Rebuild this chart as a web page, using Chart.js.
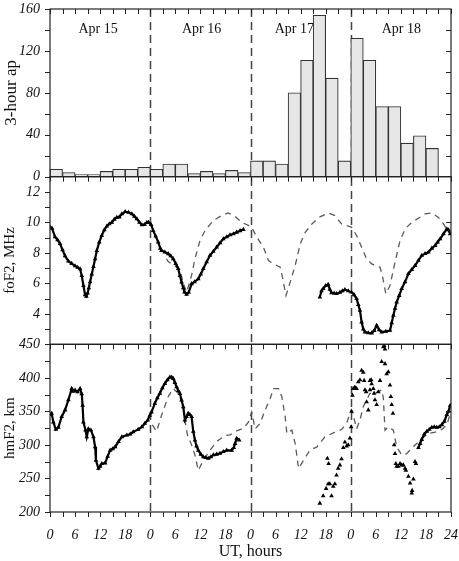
<!DOCTYPE html>
<html>
<head>
<meta charset="utf-8">
<style>
  html, body { margin: 0; padding: 0; background: #fff; }
  #c { display: block; }
</style>
<script src="https://cdn.jsdelivr.net/npm/chart.js@4"></script>
</head>
<body>
<canvas id="c" width="459" height="561"></canvas>
<script>
// ---------- DATA ----------
const dayLabels = ['Apr 15', 'Apr 16', 'Apr 17', 'Apr 18'];
const hourTickLabels = ['0','6','12','18','0','6','12','18','0','6','12','18','0','6','12','18','24'];

const apHours = [1.5,4.5,7.5,10.5,13.5,16.5,19.5,22.5, 25.5,28.5,31.5,34.5,37.5,40.5,43.5,46.5,
                 49.5,52.5,55.5,58.5,61.5,64.5,67.5,70.5, 73.5,76.5,79.5,82.5,85.5,88.5,91.5,94.5];
const apValues = [7,4,2,2,5,7,7,9, 7,12,12,3,5,3,6,4, 15,15,12,80,111,154,94,15, 132,111,67,67,32,39,27,null];

const foF2Observed = [
  [0,9.7],[0.5,9.6],[1.2,9.05],[1.8,8.85],[2.4,8.6],[3,8.2],[3.6,7.8],[4.4,7.45],[5.2,7.3],[6,7.15],[6.6,7.05],[7.2,6.95],
  [7.6,6.5],[8,5.85],[8.4,5.25],[8.7,5.15],[9,5.35],[9.3,5.7],[9.6,6.1],[10,6.6],[10.4,7.1],[10.8,7.6],[11.2,8.15],[11.8,8.7],
  [12.4,9.15],[13,9.5],[13.6,9.75],[14.2,9.9],[14.8,10.0],[15.4,10.2],[16,10.33],[16.6,10.35],[17.2,10.55],[18,10.7],[18.8,10.65],
  [19.6,10.55],[20.2,10.4],[20.8,10.23],[21.4,10.0],[22,9.84],[22.6,9.85],[23.2,10.0],[23.6,10.0],[24.2,9.85],[24.7,9.46],
  [25.3,9.1],[25.9,8.7],[26.4,8.3],[26.7,8.15],[27.5,8.05],[28.3,7.94],[28.9,7.8],[29.5,7.61],[30.1,7.3],[30.7,6.96],[31.1,6.5],
  [31.5,6.08],[31.9,5.7],[32.2,5.42],[32.7,5.27],[33.2,5.4],[33.9,5.97],[34.6,6.1],[35.5,6.3],[36.1,6.6],[36.7,6.96],[37.5,7.4],
  [38.3,7.83],[39.1,8.1],[39.9,8.37],[40.7,8.65],[41.5,8.92],[42.3,9.05],[43.1,9.18],[43.9,9.25],[44.7,9.35],[45.5,9.45],[46.3,9.53],
  [55,null],
  [64.6,5.1],[65,5.5],[65.4,5.65],[66,5.85],[66.6,5.93],[67,5.6],[67.4,5.38],[68,5.35],[68.6,5.32],[69.4,5.4],[70,5.5],[70.6,5.58],
  [71.4,5.5],[72.2,5.42],[72.8,5.25],[73.4,4.99],[73.8,4.6],[74.2,4.23],[74.6,3.46],[75,3.0],[75.4,2.8],[76.2,2.75],[77,2.74],
  [77.6,2.9],[78.2,3.24],[78.8,2.95],[79.4,2.8],[80.4,2.85],[81.4,2.91],[81.8,3.4],[82.2,3.9],[82.6,4.35],[83,4.77],[83.6,5.2],
  [84.2,5.65],[85,6.1],[85.8,6.63],[86.6,6.9],[87.4,7.17],[88.2,7.5],[89,7.83],[89.8,7.95],[90.6,8.04],[91.4,8.3],[92.2,8.48],
  [92.8,8.7],[93.4,8.92],[94.2,9.25],[95,9.57],[95.4,9.5],[95.8,9.25]
];

const foF2Median = [
  [27.9,7.6],[28.3,7.43],[30.3,7.06],[31.1,6.9],[31.9,6.0],[32.7,5.42],[33.9,6.52],[34.7,7.61],[35.9,8.8],[37.1,9.46],[39.1,10.12],
  [41.1,10.45],[42.7,10.62],[44.3,10.4],[45.9,10.0],[47.5,9.8],[48.3,9.68],[49.5,9.03],[51.1,8.37],[52.3,7.5],[53.5,7.28],[55.1,7.06],
  [55.5,6.6],[56.5,5.2],[57.5,6.08],[58.7,7.17],[59.9,8.6],[61.1,9.35],[62.7,9.9],[64.4,10.33],[66.6,10.62],[68.2,10.45],[69.8,9.9],
  [71,9.8],[72.2,9.68],[73.4,9.14],[74.6,8.37],[75.8,7.61],[77,7.28],[79,7.06],[79.5,6.6],[80.4,5.32],[81.4,5.86],[82.6,7.39],
  [83.8,8.81],[85,9.57],[86.6,10.0],[88.2,10.27],[89.8,10.56],[91.4,10.62],[93,10.33],[94.2,9.9],[95.4,9.35]
];

const hmF2Observed = [
  [0,345],[0.4,347],[0.8,334],[1.4,323],[2,326],[2.8,342],[3.6,352],[4.4,367],[5.2,384],[5.6,380],[6,381.5],[6.6,379],[7.2,384],
  [7.6,376],[7.8,359],[8,334],[8.5,322],[8.8,312],[9.2,324],[9.8,322],[10.4,312],[10.8,297],[11,277],[11.6,265],[12,268],[12.4,272],
  [13.2,273],[13.8,283],[14.4,292],[15,294],[15.6,297],[16.4,305],[17.2,312],[18.4,314.6],[19.2,316],[19.9,319.5],[21.1,323],[22,327],
  [22.7,332],[23.4,337],[23.9,344],[24.3,349],[25.1,362],[25.7,370],[26.3,377],[26.9,385],[27.5,391.5],[28.1,397],[28.7,401],[29.1,401],
  [29.5,399],[29.9,393],[30.3,386.5],[30.7,381],[31.1,376.6],[31.5,366.7],[31.9,356.7],[32.3,337],[32.7,342],[33.1,347],[33.5,345],
  [33.9,342],[34.3,320],[34.7,307],[35.1,298],[35.5,292],[36.1,286],[36.7,282],[37.3,281],[37.9,280],[38.5,282],[39.1,285],[39.9,286],
  [40.7,287.4],[41.5,290],[42.3,292],[43.5,292],[44,296],[44.3,302],[44.7,309.7],[45.3,307],
  [60,null],
  [88.2,296],[88.6,302],[89,308],[89.6,316],[90.2,320],[90.8,323],[91.4,326],[92,327],[92.6,326],[93.2,327],[93.8,330],[94.4,335],
  [95,345],[95.4,350],[95.8,359]
];

const hmF2Scattered = [
  [64.6,213],[65.4,224],[66.1,235],[66.6,242],[66.4,280],[66.7,272],[67,242],[67.4,224],[67.8,238],[68.2,242],[68.6,255],[69,265],
  [69.4,270],[69.8,279],[70.2,296],[70.6,304],[71,298],[71.4,300],[71.8,310],[72.1,327],[72.2,350],[72.4,374],[72.6,384],[73,386],
  [73.4,384],[73.8,394],[74.2,397],[74.6,411],[75,408],[75.2,396],[75.4,382],[75.7,379],[75.8,364],[76.2,352],[76.6,382],[76.6,396],
  [76.9,397],[77,391],[77.4,384],[77.6,377],[77.8,367],[78.2,360],[78.6,379],[79,396],[79.4,424],[79.8,446],[80,448],[80.2,443],
  [80.2,421],[80.6,406],[81,409],[81.4,389],[81.6,372],[81.8,360],[82.1,347],[82.4,300],[82.6,287],[82.8,272],[83,268],[83.4,268],
  [83.8,272],[84.2,270],[84.6,270],[85,265],[85.2,262],[85.8,253],[86.2,243],[86.6,228],[86.7,232],[87,249],[87.4,275],[87.6,272]
];

const hmF2Median = [
  [24.5,330],[25.5,320],[26.7,344],[28.3,372],[29.5,384],[30.5,378],[31.8,362],[32.3,337],[32.9,315],[33.9,300],[34.7,285],[35.5,262],
  [36.7,277],[38.3,292],[39.9,305],[41.9,314],[43.1,315],[44.7,321],[46.3,325],[47.5,334],[48.3,349],[49.1,324],[50.3,332],[51.5,352],
  [52.7,369],[53.5,384],[54.7,384],[55.5,372],[56.3,342],[56.7,317],[57.9,322],[58.7,302],[59.5,265],[60.7,277],[62.2,292],[63.9,297],
  [65.8,312],[68.2,319],[69.8,323],[71,332],[72.1,352],[72.6,344],[73.4,324],[74.2,337],[75,357],[76.6,377],[77.8,377],[79.4,382],
  [79.8,370],[80.2,322],[81,327],[82.2,322],[83,297],[84.2,285],[85.4,287],[86.6,295],[87.8,302],[89,310],[90.6,317],[92.2,319],
  [93.8,323],[95,330],[96,350]
];

// ---------- CHART ----------
const toXY = arr => arr.map(p => ({x: p[0], y: p[1]}));
const SERIF = '"Liberation Serif", "Times New Roman", serif';
const INK = '#222';

const decor = {
  id: 'decor',
  beforeDatasetsDraw(chart) {
    const {ctx, chartArea, scales} = chart;
    const x = scales.x;
    ctx.save();
    ctx.strokeStyle = '#444';
    ctx.lineWidth = 1.5;
    ctx.setLineDash([8, 5]);
    [24, 48, 72].forEach(h => {
      const px = Math.round(x.getPixelForValue(h)) + 0.5;
      ctx.beginPath();
      ctx.moveTo(px, chartArea.top);
      ctx.lineTo(px, chartArea.bottom);
      ctx.stroke();
    });
    ctx.restore();
  },
  afterDatasetsDraw(chart) {
    const {ctx, scales} = chart;
    const x = scales.x;
    const panels = [scales.yAp, scales.yFo, scales.yHm];
    ctx.save();
    ctx.strokeStyle = INK;
    ctx.lineWidth = 1.2;
    ctx.setLineDash([]);
    panels.forEach(s => {
      ctx.strokeRect(x.left, s.top, x.right - x.left, s.bottom - s.top);
    });
    ctx.lineWidth = 1;
    for (let h = 0; h <= 96; h += 3) {
      const px = Math.round(x.getPixelForValue(h)) + 0.5;
      panels.forEach(s => {
        ctx.beginPath(); ctx.moveTo(px, s.top); ctx.lineTo(px, s.top + 5); ctx.stroke();
      });
      ctx.beginPath(); ctx.moveTo(px, scales.yHm.bottom); ctx.lineTo(px, scales.yHm.bottom + 5); ctx.stroke();
    }
    panels.forEach(s => {
      s.ticks.forEach(t => {
        const py = Math.round(s.getPixelForValue(t.value)) + 0.5;
        ctx.beginPath(); ctx.moveTo(x.left - 5, py); ctx.lineTo(x.left, py); ctx.stroke();
      });
    });
    const rightTicks = [[scales.yAp, 20], [scales.yFo, 2], [scales.yHm, 50]];
    rightTicks.forEach(([s, step]) => {
      for (let v = Math.ceil(s.min / step) * step; v <= s.max; v += step) {
        if (v === s.min || v === s.max) continue;
        const py = Math.round(s.getPixelForValue(v)) + 0.5;
        ctx.beginPath(); ctx.moveTo(x.right, py); ctx.lineTo(x.right - 5, py); ctx.stroke();
      }
    });
    ctx.fillStyle = '#111';
    ctx.font = '14px ' + SERIF;
    ctx.textAlign = 'center';
    ctx.textBaseline = 'middle';
    const labelHours = [11.5, 36.3, 58.5, 84.1];
    dayLabels.forEach((t, i) => {
      ctx.fillText(t, x.getPixelForValue(labelHours[i]), scales.yAp.getPixelForValue(141));
    });
    ctx.restore();
  }
};

const yCommon = (title, size) => ({
  type: 'linear',
  position: 'left',
  stack: 'panels',
  stackWeight: 1,
  border: { display: false },
  grid: { drawOnChartArea: false, drawTicks: true, tickLength: 10, tickColor: 'rgba(0,0,0,0)', color: 'rgba(0,0,0,0)' },
  title: { display: true, text: title, color: '#111', font: { family: SERIF, size: size }, padding: { top: 1, bottom: 0 } },
  afterFit(s) { s.width = 50; }
});

const tickFont = { family: SERIF, size: 14, style: 'italic' };

new Chart(document.getElementById('c'), {
  type: 'line',
  data: {
    datasets: [
      { type: 'line', label: 'foF2 obs', yAxisID: 'yFo', data: toXY(foF2Observed), order: 0,
        borderColor: '#000', borderWidth: 2.2, pointStyle: 'triangle', pointRadius: 2.7,
        pointBackgroundColor: '#000', pointBorderColor: '#000', pointBorderWidth: 0, spanGaps: false, tension: 0 },
      { type: 'line', label: 'hmF2 obs', yAxisID: 'yHm', data: toXY(hmF2Observed), order: 0,
        borderColor: '#000', borderWidth: 2.2, pointStyle: 'triangle', pointRadius: 2.7,
        pointBackgroundColor: '#000', pointBorderColor: '#000', pointBorderWidth: 0, spanGaps: false, tension: 0 },
      { type: 'line', label: 'hmF2 scattered', yAxisID: 'yHm', data: toXY(hmF2Scattered), order: 0, showLine: false,
        pointStyle: 'triangle', pointRadius: 2.7, pointBackgroundColor: '#000', pointBorderColor: '#000', pointBorderWidth: 0 },
      { type: 'line', label: 'foF2 median', yAxisID: 'yFo', data: toXY(foF2Median), order: 1,
        borderColor: '#5a5a5a', borderWidth: 1.3, borderDash: [6, 5], pointRadius: 0, tension: 0 },
      { type: 'line', label: 'hmF2 median', yAxisID: 'yHm', data: toXY(hmF2Median), order: 1,
        borderColor: '#5a5a5a', borderWidth: 1.3, borderDash: [6, 5], pointRadius: 0, tension: 0 },
      { type: 'bar', label: 'ap', yAxisID: 'yAp', order: 2,
        data: apHours.map((h, i) => ({x: h, y: apValues[i]})),
        backgroundColor: '#e6e6e6', borderColor: '#333', borderWidth: 1.1,
        barPercentage: 1, categoryPercentage: 1 }
    ]
  },
  options: {
    responsive: false,
    animation: false,
    events: [],
    layout: { autoPadding: false, padding: { top: 9, right: 8, left: 0, bottom: 0 } },
    plugins: { legend: { display: false }, tooltip: { enabled: false } },
    scales: {
      x: {
        type: 'linear', position: 'bottom', min: 0, max: 96, offset: false,
        grid: { display: true, offset: false, drawOnChartArea: false, drawTicks: true, tickLength: 15, tickColor: 'rgba(0,0,0,0)', color: 'rgba(0,0,0,0)' },
        border: { display: false },
        ticks: {
          stepSize: 3, autoSkip: false, maxRotation: 0, padding: 0, color: '#111', font: tickFont,
          callback: v => (v % 6 === 0 ? hourTickLabels[v / 6] : '')
        },
        title: { display: true, text: 'UT, hours', color: '#111', font: { family: SERIF, size: 16 }, padding: { top: 0, bottom: 0 } },
        afterFit(s) { s.height = 49; }
      },
      yHm: Object.assign(yCommon('hmF2, km', 15), {
        min: 200, max: 450,
        ticks: { stepSize: 25, autoSkip: false, padding: 0, color: '#111', font: tickFont,
                 callback: v => (v % 50 === 0 ? String(v) : '') }
      }),
      yFo: Object.assign(yCommon('foF2, MHz', 15), {
        min: 2, max: 13,
        ticks: { stepSize: 1, autoSkip: false, padding: 0, color: '#111', font: tickFont,
                 callback: v => (v % 2 === 0 && v >= 4 ? String(v) : '') }
      }),
      yAp: Object.assign(yCommon('3-hour ap', 17), {
        min: 0, max: 160,
        ticks: { stepSize: 20, autoSkip: false, padding: 0, color: '#111', font: tickFont,
                 callback: v => (v % 40 === 0 ? String(v) : '') }
      })
    }
  },
  plugins: [decor]
});
</script>
</body>
</html>
